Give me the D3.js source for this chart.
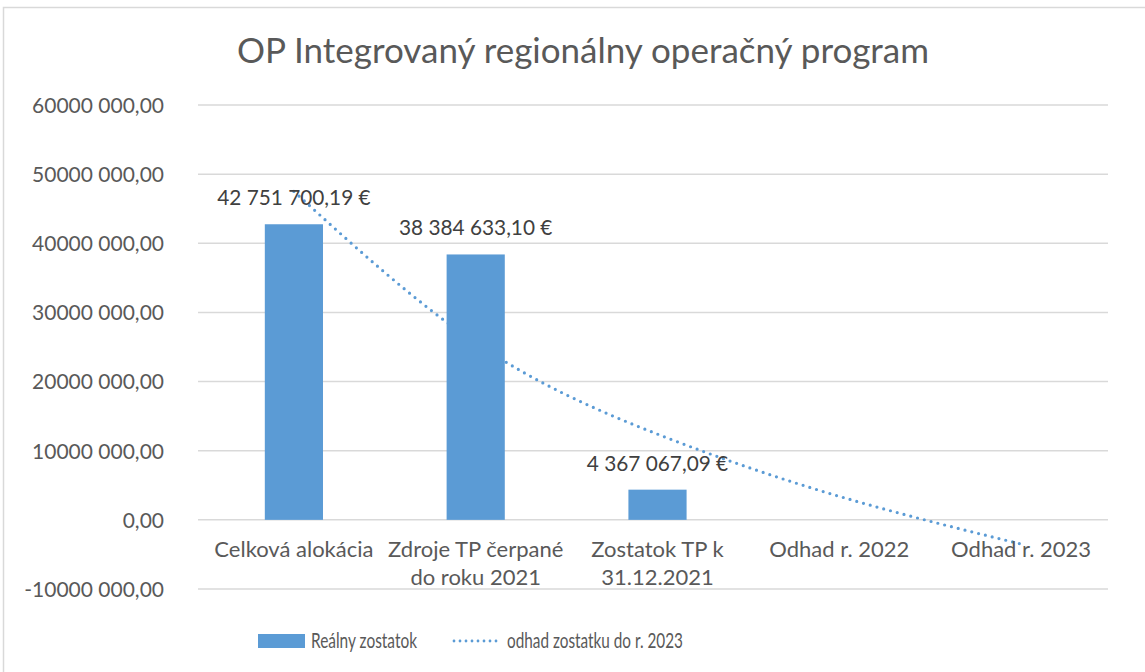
<!DOCTYPE html>
<html>
<head>
<meta charset="utf-8">
<script src="https://cdn.jsdelivr.net/npm/d3@7"></script>
<style>
  body { margin: 0; background: #fff; }
  svg text { font-family: Lato, "Open Sans", sans-serif; }
</style>
</head>
<body>
<script>
const categories = ["Celková alokácia", "Zdroje TP čerpané\ndo roku 2021", "Zostatok TP k\n31.12.2021", "Odhad r. 2022", "Odhad r. 2023"];
const realValues = [42751700.19, 38384633.10, 4367067.09, null, null];
const trendValues = [47500000, 25600000, 12400000, 3400000, -3500000];
const yTicks = [-10000000, 0, 10000000, 20000000, 30000000, 40000000, 50000000, 60000000];
const title = "OP Integrovaný regionálny operačný program";
const seriesNames = ["Reálny zostatok", "odhad zostatku do r. 2023"];

const W = 1145, H = 672;
const blue = "#5B9BD5";
const grey = "#595959";

const svg = d3.select("body").append("svg").attr("width", W).attr("height", H);

// chart border
svg.append("rect").attr("x", 3.5).attr("y", 7.5).attr("width", W + 10).attr("height", H + 10)
  .attr("fill", "none").attr("stroke", "#D9D9D9").attr("stroke-width", 1.5);

const x = d3.scaleBand().domain(categories).range([203, 1112]).paddingInner(0.68).paddingOuter(0.34);
const y = d3.scaleLinear().domain([-10000000, 60000000]).range([589, 105]);

function fmtAxis(v) {
  if (v === 0) return "0,00";
  const s = v < 0 ? "-" : "";
  const a = Math.abs(v);
  return s + Math.floor(a / 1000) + " " + String(a % 1000).padStart(3, "0") + ",00";
}
function fmtEur(v) {
  const parts = v.toFixed(2).split(".");
  return parts[0].replace(/\B(?=(\d{3})+(?!\d))/g, " ") + "," + parts[1] + " €";
}

// title
svg.append("text").attr("x", 583).attr("y", 63).attr("text-anchor", "middle")
  .attr("font-size", 35).attr("fill", grey).text(title);

// gridlines
svg.append("g").selectAll("line").data(yTicks).enter().append("line")
  .attr("x1", 198).attr("x2", 1108)
  .attr("y1", d => y(d)).attr("y2", d => y(d))
  .attr("stroke", "#D9D9D9").attr("stroke-width", 1.5);

// y axis labels
const yAxis = d3.axisLeft(y).tickValues(yTicks).tickFormat(fmtAxis).tickSize(0).tickPadding(0);
const ga = svg.append("g").attr("transform", "translate(164,0)").call(yAxis);
ga.select(".domain").remove();
ga.selectAll("text").attr("font-size", 21).attr("fill", grey).attr("dy", "0.35em")
  .style("font-family", "Lato, sans-serif");

// trend line (behind bars)
const line = d3.line()
  .x((d, i) => x(categories[i]) + x.bandwidth() / 2)
  .y(d => y(d))
  .curve(d3.curveNatural);
svg.append("path").datum(trendValues).attr("d", line)
  .attr("fill", "none").attr("stroke", blue).attr("stroke-width", 3.2)
  .attr("stroke-linecap", "round").attr("stroke-dasharray", "0 7");

// bars
const barData = categories.map((c, i) => ({c: c, v: realValues[i]})).filter(d => d.v !== null);
svg.append("g").selectAll("rect").data(barData).enter().append("rect")
  .attr("x", d => x(d.c)).attr("width", x.bandwidth())
  .attr("y", d => y(d.v)).attr("height", d => y(0) - y(d.v))
  .attr("fill", blue);

// data labels
svg.append("g").selectAll("text").data(barData).enter().append("text")
  .attr("x", d => x(d.c) + x.bandwidth() / 2)
  .attr("y", d => y(d.v) - 19)
  .attr("text-anchor", "middle").attr("font-size", 20.8).attr("fill", "#404040")
  .text(d => fmtEur(d.v));

// category labels
const cl = svg.append("g").selectAll("text").data(categories).enter().append("text")
  .attr("x", d => x(d) + x.bandwidth() / 2)
  .attr("y", 557)
  .attr("text-anchor", "middle").attr("font-size", 22).attr("fill", grey);
cl.each(function (d) {
  const t = d3.select(this);
  d.split("\n").forEach((ln, i) => {
    t.append("tspan").attr("x", t.attr("x")).attr("dy", i === 0 ? 0 : 28).text(ln);
  });
});

// legend
const lg = svg.append("g");
lg.append("rect").attr("x", 258).attr("y", 634).attr("width", 47).attr("height", 14).attr("fill", blue);
lg.append("text").attr("x", 311).attr("y", 648).attr("font-size", 20.5).attr("fill", grey)
  .attr("textLength", 106).attr("lengthAdjust", "spacingAndGlyphs").text(seriesNames[0]);
lg.append("line").attr("x1", 454).attr("x2", 502).attr("y1", 641).attr("y2", 641)
  .attr("stroke", blue).attr("stroke-width", 2.8).attr("stroke-linecap", "round").attr("stroke-dasharray", "0 6");
lg.append("text").attr("x", 507).attr("y", 648).attr("font-size", 20.5).attr("fill", grey)
  .attr("textLength", 176).attr("lengthAdjust", "spacingAndGlyphs").text(seriesNames[1]);
</script>
</body>
</html>
